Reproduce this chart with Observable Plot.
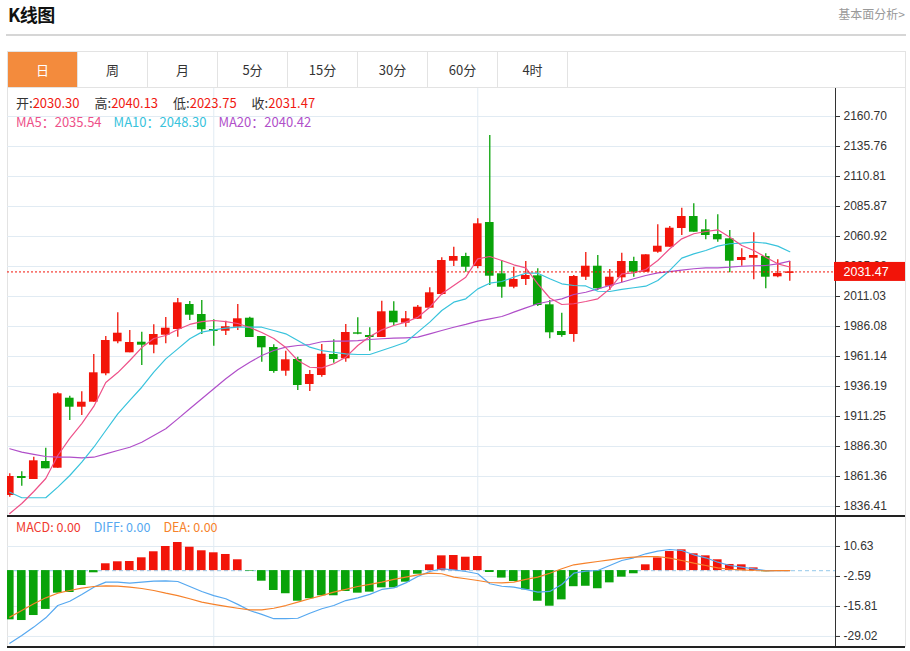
<!DOCTYPE html>
<html><head><meta charset="utf-8">
<script src="https://cdn.jsdelivr.net/npm/d3@7"></script>
<script src="https://cdn.jsdelivr.net/npm/@observablehq/plot@0.6"></script>
<style>
body{margin:0;width:910px;height:651px;position:relative;background:#fff;font-family:"Noto Sans CJK SC","Noto Sans",sans-serif;overflow:hidden}
#title{position:absolute;left:8px;top:1px;font-size:18px;font-weight:bold;color:#111;letter-spacing:-0.5px}
#more{position:absolute;right:5px;top:5px;font-size:12px;color:#999}
#hr{position:absolute;left:6px;top:34px;width:900px;height:2px;background:#d6d6d6}
#tabs{position:absolute;left:7px;top:51px;width:897px;height:35px;border:1px solid #e3e3e3;display:flex}
.tab{width:69px;border-right:1px solid #e3e3e3;text-align:center;line-height:35px;font-size:13px;color:#333}
.tab.on{background:#f38b3d;color:#fff}
#frame{position:absolute;left:7px;top:87px;width:897px;height:560px;border-left:1px solid #e3e3e3;border-right:1px solid #e3e3e3}
.svgbox{position:absolute;left:0}
.hline{position:absolute;left:7px;width:898px;height:1.5px;background:#222}
.info{position:absolute;left:16px;font-size:13px;display:flex;white-space:nowrap}
#info1 span.g{margin-right:15px}
#info2 span.g{margin-right:12px}
#info3 span.g{margin-right:13px}
.k{color:#333}
.r{color:#f01a12}
</style></head>
<body>
<div id="title">K线图</div>
<div id="more">基本面分析&gt;</div>
<div id="hr"></div>
<div id="tabs"></div>
<div id="frame"></div>
<div id="mainbox" class="svgbox" style="top:88px"></div>
<div id="macdbox" class="svgbox" style="top:516px"></div>
<div class="hline" style="top:515px"></div>
<div class="hline" style="top:646px"></div>
<div id="info1" class="info" style="top:93px"></div>
<div id="info2" class="info" style="top:112px"></div>
<div id="info3" class="info" style="top:517px;font-size:12.5px"></div>
<script>
const tabs = ["日","周","月","5分","15分","30分","60分","4时"];
const priceTicks = [2160.70,2135.76,2110.81,2085.87,2060.92,2035.98,2011.03,1986.08,1961.14,1936.19,1911.25,1886.30,1861.36,1836.41];
const macdTicks = [10.63,-2.59,-15.81,-29.02];
const dividers = [17,39];

const open = [1845.56,1861.36,1858.87,1873.83,1868.26,1926.47,1918.98,1923.14,1946.75,1973.36,
1964.22,1973.03,1970.54,1978.85,1983.59,2004.38,1996.06,1983.59,1982.18,1985.50,
1992.99,1977.77,1968.62,1948.92,1958.65,1937.86,1945.34,1962.80,1959.23,1980.85,
1978.60,1976.94,1998.81,1988.83,1992.15,2001.30,2012.69,2040.38,2044.29,2035.97,
2072.56,2029.91,2018.76,2025.17,2028.24,2004.13,1981.93,1979.43,2027.08,2036.22,
2019.59,2026.58,2040.13,2031.24,2047.87,2052.02,2067.57,2077.55,2066.49,2062.58,
2059.01,2040.96,2042.88,2044.29,2027.41,2030.30];
const high = [1863.60,1865.27,1877.41,1884.89,1930.96,1928.13,1931.79,1962.80,1977.77,1997.48,
1982.76,1981.35,1987.50,1993.57,2009.37,2006.87,2007.70,1991.66,1990.49,2004.38,
1993.82,1977.77,1970.87,1965.55,1960.56,1949.50,1971.12,1975.03,1987.75,1993.32,
1985.00,2007.12,2006.62,1998.56,2003.55,2018.26,2043.21,2052.02,2047.03,2075.64,
2144.90,2040.96,2035.39,2040.13,2034.06,2007.70,1997.14,2028.49,2047.62,2045.12,
2033.48,2047.03,2043.71,2045.70,2070.65,2069.23,2084.45,2088.11,2074.81,2078.96,
2065.91,2050.69,2064.00,2046.54,2041.55,2040.13];
const low = [1844.15,1853.29,1858.87,1867.76,1868.26,1907.92,1912.08,1923.14,1945.09,1971.70,
1964.22,1953.66,1963.39,1971.70,1977.19,1991.07,1979.43,1969.71,1978.60,1982.76,
1976.94,1956.40,1947.25,1944.76,1932.87,1932.04,1943.93,1955.57,1956.40,1979.18,
1965.55,1976.94,1986.92,1985.50,1992.15,2001.30,2011.86,2035.97,2031.24,2034.06,
2020.18,2009.62,2017.43,2020.18,2002.71,1975.86,1977.19,1973.03,2024.33,2016.02,
2016.02,2022.42,2027.08,2031.24,2047.03,2052.02,2061.75,2064.50,2058.18,2056.18,
2030.74,2036.22,2024.92,2017.43,2026.58,2023.75];
const close = [1861.36,1859.70,1874.41,1867.76,1930.12,1918.98,1923.14,1947.59,1974.44,1980.51,
1972.78,1970.54,1979.43,1984.67,2005.79,1995.48,1983.34,1981.93,1985.84,1992.49,
1976.94,1968.37,1948.67,1958.40,1937.03,1946.17,1963.05,1958.65,1981.10,1979.68,
1976.94,1998.31,1989.16,1992.49,2002.13,2014.11,2040.96,2044.29,2035.39,2071.48,
2027.91,2018.76,2025.17,2028.49,2003.55,1980.85,1978.60,2027.66,2036.22,2017.43,
2027.08,2040.13,2031.24,2045.70,2052.85,2067.82,2077.55,2064.50,2061.75,2058.18,
2040.38,2043.46,2045.12,2027.08,2030.15,2031.47];
const ma5 = [1830.6,1838.9,1848.9,1859.7,1878.8,1893.0,1905.4,1919.6,1939.5,1947.8,
1957.8,1968.6,1976.1,1978.6,1983.6,1987.8,1990.2,1991.1,1990.2,1988.6,
1985.3,1981.1,1976.1,1968.6,1957.8,1952.2,1951.7,1955.1,1960.6,1970.3,
1977.8,1983.3,1986.9,1989.7,1993.8,2002.1,2013.3,2020.2,2027.1,2042.4,
2044.3,2041.0,2037.4,2034.9,2021.6,2009.8,2004.4,2005.0,2006.9,2009.1,
2017.4,2029.9,2030.7,2033.5,2041.0,2050.7,2059.0,2063.2,2065.1,2066.5,
2060.3,2053.4,2049.3,2043.7,2038.2,2035.54];
const ma10 = [1848.3,1843.7,1843.7,1843.7,1852.5,1862.2,1873.3,1885.7,1899.6,1913.5,
1924.6,1935.6,1948.1,1959.2,1967.5,1975.9,1981.4,1983.3,1984.7,1985.5,
1985.5,1985.5,1982.8,1980.0,1974.4,1968.9,1966.1,1964.7,1963.4,1962.8,
1962.8,1966.1,1969.5,1973.0,1981.4,1989.7,1999.4,2006.3,2009.1,2017.4,
2022.1,2023.5,2027.1,2030.4,2030.4,2025.8,2021.6,2020.2,2019.8,2015.4,
2015.2,2016.9,2018.3,2019.6,2024.3,2032.7,2042.9,2046.5,2049.3,2052.9,
2054.9,2055.4,2056.2,2055.4,2052.9,2048.30];
const ma20 = [1884.4,1881.6,1879.7,1878.0,1877.4,1877.4,1876.9,1877.4,1880.2,1883.0,
1885.7,1889.9,1895.5,1901.0,1909.3,1917.7,1926.0,1934.3,1942.6,1950.1,
1956.4,1962.0,1966.1,1969.0,1970.3,1971.1,1973.4,1973.9,1973.9,1974.4,
1975.3,1975.9,1976.4,1976.7,1977.2,1980.0,1982.8,1985.5,1987.8,1990.5,
1992.5,1994.4,1998.0,2001.6,2005.0,2007.1,2009.1,2012.7,2014.6,2017.4,
2020.2,2022.9,2025.8,2028.5,2030.7,2031.8,2032.9,2034.1,2034.9,2034.9,
2035.4,2036.2,2036.6,2036.8,2038.2,2040.42];
const macd = [-21.7,-22.0,-19.8,-17.1,-9.95,-9.65,-6.57,-0.97,3.0,3.88,
4.0,5.64,8.29,10.62,12.38,10.3,8.73,7.84,7.1,4.76,
-0.25,-4.67,-8.77,-10.2,-13.5,-12.4,-11.1,-11.1,-9.2,-9.95,
-9.5,-7.6,-7.6,-5.1,-1.6,2.55,6.5,6.65,5.9,6.2,
-0.84,-3.3,-4.8,-8.5,-13.5,-15.7,-12.9,-7.1,-6.9,-8.0,
-5.4,-2.9,-1.4,2.55,5.6,8.4,9.15,7.4,6.5,4.76,
2.7,2.55,1.2,-0.5,-0.1,0.0];
const diff = [-32.0,-28.6,-24.9,-20.8,-15.4,-13.5,-10.5,-7.3,-5.1,-5.1,
-5.55,-5.1,-4.67,-4.5,-4.8,-7.0,-9.2,-11.0,-12.4,-14.9,
-17.6,-19.3,-21.2,-21.2,-21.0,-18.8,-16.8,-15.4,-13.2,-12.0,
-10.5,-8.3,-7.6,-5.4,-2.6,-0.4,0.8,0.3,-0.4,-1.4,
-5.8,-6.9,-7.3,-8.3,-9.5,-9.2,-6.1,-1.15,-0.26,0.05,
2.25,4.45,5.64,7.4,8.55,9.3,8.86,6.96,5.64,3.7,
2.25,1.5,0.8,0.0,0.0,0.0];
const dea = [-20.5,-17.6,-14.6,-12.0,-9.96,-8.77,-7.76,-7.0,-6.7,-6.87,
-7.3,-7.9,-8.77,-9.96,-11.0,-12.4,-13.9,-14.9,-15.8,-16.6,
-17.3,-17.3,-16.6,-15.4,-13.9,-12.4,-11.0,-9.5,-8.3,-7.0,
-6.1,-5.1,-3.9,-2.9,-1.85,-1.15,-1.4,-2.9,-3.6,-4.36,
-5.24,-5.4,-5.1,-3.9,-2.9,-1.15,0.8,2.56,3.26,4.0,
4.76,5.46,5.9,6.2,6.2,5.46,4.45,3.26,2.25,1.23,
0.6,0.35,0.05,-0.1,0.0,0.0];

const RED="#f21409", GREEN="#09a309", GRID="#e1ebf3";
const C_MA5="#ee5189", C_MA10="#38c3dc", C_MA20="#b04fc9", C_DIFF="#56a8f0", C_DEA="#f6822b";
const X0=-0.19, X1=68.81, BW=0.36;
const n = open.length, L = n-1;
const idx = d3.range(n);
const K = idx.map(i=>({i,o:open[i],h:high[i],l:low[i],c:close[i]}));
const up = K.filter(d=>d.c>=d.o), dn = K.filter(d=>d.c<d.o);
const last = close[L];
const lo = d=>Math.min(d.o,d.c), hi = d=>Math.max(d.o,d.c,Math.min(d.o,d.c)+1.0);
const fmt = d=>d.toFixed(2);
const axisStyle = {background:"transparent",fontFamily:"'Liberation Sans',Arial,sans-serif",fontSize:"12px",color:"#333",overflow:"visible"};

document.getElementById("tabs").innerHTML = tabs.map((t,i)=>`<div class="tab${i===0?" on":""}">${t}</div>`).join("");
document.getElementById("info1").innerHTML = [["开",open[L]],["高",high[L]],["低",low[L]],["收",close[L]]]
  .map(([k,v])=>`<span class="g"><span class="k">${k}:</span><span class="r">${fmt(v)}</span></span>`).join("");
document.getElementById("info2").innerHTML = [["MA5",ma5[L],C_MA5],["MA10",ma10[L],C_MA10],["MA20",ma20[L],C_MA20]]
  .map(([k,v,c])=>`<span class="g" style="color:${c}">${k}：${fmt(v)}</span>`).join("");
document.getElementById("info3").innerHTML = [["MACD",macd[L],"#f03a30"],["DIFF",diff[L],C_DIFF],["DEA",dea[L],C_DEA]]
  .map(([k,v,c])=>`<span class="g" style="color:${c}">${k}: ${fmt(v)}</span>`).join("");

const mainSvg = Plot.plot({
  width:910, height:428, marginLeft:7, marginRight:75, marginTop:0, marginBottom:0,
  style:axisStyle,
  x:{domain:[X0,X1], axis:null},
  y:{domain:[1828.1,2184.0], axis:"right", ticks:priceTicks, tickFormat:fmt, tickSize:4, tickPadding:4, line:true, label:null},
  marks:[
    Plot.ruleY(priceTicks,{stroke:GRID}),
    Plot.ruleX(dividers,{stroke:GRID}),
    Plot.ruleX(up,{x:"i",y1:"l",y2:"h",stroke:RED,strokeWidth:1.3,clip:true}),
    Plot.ruleX(dn,{x:"i",y1:"l",y2:"h",stroke:GREEN,strokeWidth:1.3,clip:true}),
    Plot.rect(up,{x1:d=>d.i-BW,x2:d=>d.i+BW,y1:lo,y2:hi,fill:RED,clip:true}),
    Plot.rect(dn,{x1:d=>d.i-BW,x2:d=>d.i+BW,y1:lo,y2:hi,fill:GREEN,clip:true}),
    Plot.line(idx,{x:d=>d,y:d=>ma20[d],stroke:C_MA20,strokeWidth:1.2,clip:true}),
    Plot.line(idx,{x:d=>d,y:d=>ma10[d],stroke:C_MA10,strokeWidth:1.2,clip:true}),
    Plot.line(idx,{x:d=>d,y:d=>ma5[d],stroke:C_MA5,strokeWidth:1.2,clip:true}),
    Plot.ruleY([last],{stroke:RED,strokeDasharray:"2,2",strokeWidth:1}),
    Plot.rect([last],{x1:()=>X1,x2:()=>X1,y1:d=>d,y2:d=>d,insetLeft:-1,insetRight:-70,insetTop:-9.5,insetBottom:-9.5,fill:RED}),
    Plot.text([last],{x:()=>X1,y:d=>d,text:fmt,textAnchor:"start",dx:8,fill:"white",fontSize:12.5})
  ]
});
document.getElementById("mainbox").appendChild(mainSvg);

const bars = idx.map(i=>({i,v:macd[i]}));
const macdSvg = Plot.plot({
  width:910, height:131, marginLeft:7, marginRight:75, marginTop:0, marginBottom:0,
  style:axisStyle,
  x:{domain:[X0,X1], axis:null},
  y:{domain:[-33.89,23.84], axis:"right", ticks:macdTicks, tickFormat:fmt, tickSize:4, tickPadding:4, line:true, label:null},
  marks:[
    Plot.ruleY(macdTicks,{stroke:GRID}),
    Plot.ruleX(dividers,{stroke:GRID}),
    Plot.ruleY([0],{stroke:"#a9d3ee",strokeDasharray:"4,3",strokeWidth:1.2}),
    Plot.rect(bars.filter(d=>d.v>=0),{x1:d=>d.i-BW,x2:d=>d.i+BW,y1:0,y2:"v",fill:RED,clip:true}),
    Plot.rect(bars.filter(d=>d.v<0),{x1:d=>d.i-BW,x2:d=>d.i+BW,y1:0,y2:"v",fill:GREEN,clip:true}),
    Plot.line(idx,{x:d=>d,y:d=>diff[d],stroke:C_DIFF,strokeWidth:1.2,clip:true}),
    Plot.line(idx,{x:d=>d,y:d=>dea[d],stroke:C_DEA,strokeWidth:1.2,clip:true})
  ]
});
document.getElementById("macdbox").appendChild(macdSvg);
</script>
</body></html>
